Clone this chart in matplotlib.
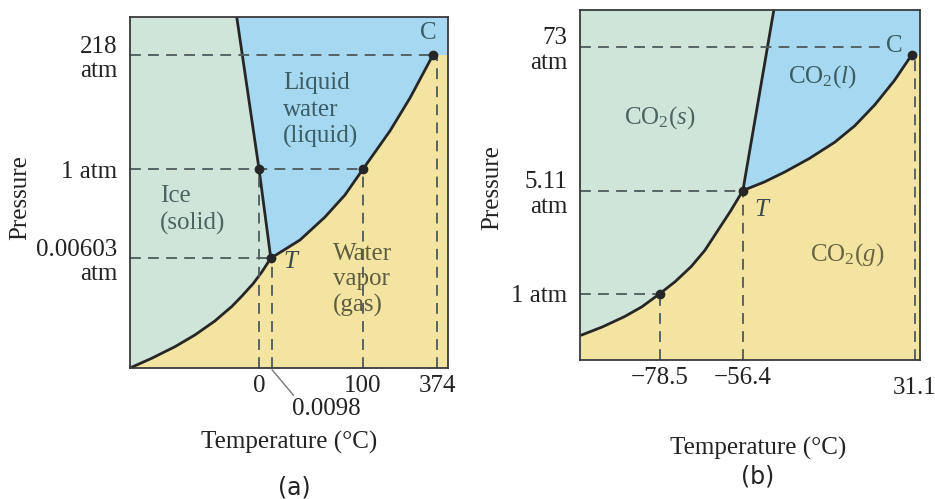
import matplotlib
matplotlib.use("Agg")
import matplotlib.pyplot as plt

plt.rcParams['font.family'] = ['Liberation Serif', 'DejaVu Serif']
plt.rcParams['mathtext.fontset'] = 'custom'
plt.rcParams['mathtext.rm'] = 'Liberation Serif'
plt.rcParams['mathtext.it'] = 'Liberation Serif:italic'

# ---- (a) water, schematic axes 0..100 ----
h2o_sub_T = [0, 6.9, 14.2, 20.4, 26.7, 32.1, 35.2, 38.7, 41.5, 44.3]
h2o_sub_P = [0, 2.8, 6.1, 9.4, 13.4, 17.6, 20.5, 24.0, 27.4, 31.3]
h2o_vap_T = [44.3, 53.5, 61.3, 67.6, 73.3, 81.8, 88.1, 95.3]
h2o_vap_P = [31.3, 36.5, 43.0, 49.3, 56.7, 67.6, 77.0, 89.2]
h2o_melt_T = [44.3, 40.6, 33.6]
h2o_melt_P = [31.3, 56.7, 100]
h2o_triple = (44.3, 31.3)
h2o_crit = (95.3, 89.2)
h2o_1atm_T = [40.6, 73.3]
h2o_1atm_P = 56.7
h2o_xticks = [40.6, 73.3, 96.6]
h2o_xlabels = ['0', '100', '374']
h2o_yticks = [89.2, 56.7, 31.3]
h2o_ylabels = ['218\natm', '1 atm', '0.00603\natm']

# ---- (b) carbon dioxide ----
co2_sub_T = [0.5, 6.8, 13.2, 18.3, 23.5, 28.1, 32.8, 36.8, 40.7, 44.4, 48.0]
co2_sub_P = [7.1, 9.5, 12.4, 15.2, 18.9, 22.4, 26.7, 31.3, 37.1, 42.6, 48.4]
co2_vap_T = [48.0, 54.4, 60.3, 67.6, 75.0, 80.9, 86.8, 92.6, 97.6]
co2_vap_P = [48.4, 50.9, 53.7, 57.6, 62.2, 66.9, 72.9, 79.9, 87.1]
co2_melt_T = [48.0, 57.1]
co2_melt_P = [48.4, 100]
co2_triple = (48.0, 48.4)
co2_crit = (97.6, 87.1)
co2_1atm = (23.5, 18.9)
co2_73_P = 89.5
co2_xticks = [23.5, 48.0, 98.5]
co2_xlabels = ['\u221278.5', '\u221256.4', '31.1']
co2_yticks = [89.5, 48.4, 18.9]
co2_ylabels = ['73\natm', '5.11\natm', '1 atm']

ICE = '#cfe5da'
LIQ = '#a6d8f1'
GAS = '#f4e4a2'
LINE = '#262626'
DASH = '#4c5a5c'
FS = 18

fig = plt.figure(figsize=(9.35, 4.99), dpi=100)
ax1 = fig.add_axes([0.139, 0.2625, 0.340, 0.703])
ax2 = fig.add_axes([0.620, 0.2786, 0.3636, 0.7014])


def draw_diagram(ax, sT, sP, vT, vP, mT, mP, crit):
    ax.set_xlim(0, 100)
    ax.set_ylim(0, 100)
    ax.set_facecolor(ICE)
    # vapor region
    gx = list(sT) + list(vT[1:]) + [100, 100, sT[0]]
    gy = list(sP) + list(vP[1:]) + [crit[1], 0, 0]
    ax.fill(gx, gy, color=GAS, lw=0)
    # liquid region
    lx = list(mT[::-1]) + list(vT[1:]) + [100, 100]
    ly = list(mP[::-1]) + list(vP[1:]) + [crit[1], 100]
    ax.fill(lx, ly, color=LIQ, lw=0)
    for xs, ys in ((sT, sP), (vT, vP), (mT, mP)):
        ax.plot(xs, ys, color=LINE, lw=2, solid_capstyle='round',
                solid_joinstyle='round')
    for s in ax.spines.values():
        s.set_color('#3a3a3a')
        s.set_linewidth(1.3)
    ax.tick_params(length=0, labelsize=FS, colors='#222222')


dash_kw = dict(color=DASH, lw=1.3, dashes=(6, 4))

# ---------- panel (a) ----------
ax = ax1
draw_diagram(ax, h2o_sub_T, h2o_sub_P, h2o_vap_T, h2o_vap_P,
             h2o_melt_T, h2o_melt_P, h2o_crit)
ax.plot([0, h2o_crit[0]], [h2o_crit[1]] * 2, **dash_kw)
ax.plot([0, h2o_1atm_T[1]], [h2o_1atm_P] * 2, **dash_kw)
ax.plot([0, h2o_triple[0]], [h2o_triple[1]] * 2, **dash_kw)
ax.plot([h2o_xticks[0]] * 2, [0, h2o_1atm_P], **dash_kw)
ax.plot([h2o_triple[0] + 0.4] * 2, [0, h2o_triple[1]], **dash_kw)
ax.plot([h2o_xticks[1]] * 2, [0, h2o_1atm_P], **dash_kw)
ax.plot([h2o_xticks[2]] * 2, [0, h2o_crit[1]], **dash_kw)
ax.plot(h2o_1atm_T, [h2o_1atm_P] * 2, 'o', color=LINE, ms=6)
ax.plot(*h2o_triple, 'o', color=LINE, ms=6)
ax.plot(*h2o_crit, 'o', color=LINE, ms=6)
ax.set_xticks(h2o_xticks)
ax.set_xticklabels(h2o_xlabels)
ax.set_yticks(h2o_yticks)
ax.set_yticklabels(h2o_ylabels, multialignment='right', linespacing=1.15)
ax.tick_params(axis='x', pad=5)
ax.tick_params(axis='y', pad=9)
ax.set_xlabel('Temperature (\u00b0C)', fontsize=FS, color='#222222')
ax.xaxis.set_label_coords(0.50, -0.18)
ax.set_ylabel('Pressure', fontsize=FS, color='#222222')
ax.yaxis.set_label_coords(-0.31, 0.487)
ax.text(0.516, -0.342, '(a)', transform=ax.transAxes, ha='center', va='center',
        fontsize=FS - 1, color='#222222', family=['DejaVu Sans'])
ax.annotate('0.0098', xy=(h2o_triple[0] + 0.4, -0.5), xytext=(61.9, -11.7),
            textcoords='data', ha='center', va='center', fontsize=FS,
            color='#222222', annotation_clip=False,
            arrowprops=dict(arrowstyle='-', color='#777777', lw=1,
                            relpos=(0.05, 1.0), shrinkA=0, shrinkB=0))
ax.text(48.1, 73.5, 'Liquid\nwater\n(liquid)', fontsize=FS, color='#3c5c64',
        ha='left', va='center', linespacing=1.25)
ax.text(9.4, 45.0, 'Ice\n(solid)', fontsize=FS, color='#4a6462',
        ha='left', va='center', linespacing=1.25)
ax.text(63.8, 25.1, 'Water\nvapor\n(gas)', fontsize=FS, color='#5f5d40',
        ha='left', va='center', linespacing=1.2)
ax.text(48.1, 30.2, 'T', fontsize=FS, style='italic', color='#3c4a4c',
        ha='left', va='center')
ax.text(93.7, 95.5, 'C', fontsize=FS, color='#3c5c64', ha='center', va='center')

# ---------- panel (b) ----------
ax = ax2
draw_diagram(ax, co2_sub_T, co2_sub_P, co2_vap_T, co2_vap_P,
             co2_melt_T, co2_melt_P, co2_crit)
ax.plot([0, co2_crit[0] - 9], [co2_73_P] * 2, **dash_kw)
ax.plot([0, co2_triple[0]], [co2_triple[1]] * 2, **dash_kw)
ax.plot([0, co2_1atm[0]], [co2_1atm[1]] * 2, **dash_kw)
ax.plot([co2_1atm[0]] * 2, [0, co2_1atm[1]], **dash_kw)
ax.plot([co2_triple[0]] * 2, [0, co2_triple[1]], **dash_kw)
ax.plot([co2_xticks[2]] * 2, [0, co2_crit[1]], **dash_kw)
ax.plot(*co2_1atm, 'o', color=LINE, ms=6)
ax.plot(*co2_triple, 'o', color=LINE, ms=6)
ax.plot(*co2_crit, 'o', color=LINE, ms=6)
ax.set_xticks(co2_xticks)
ax.set_xticklabels(co2_xlabels)
ax.set_yticks(co2_yticks)
ax.set_yticklabels(co2_ylabels, multialignment='right', linespacing=1.15)
ax.tick_params(axis='x', pad=5)
ax.tick_params(axis='y', pad=9)
ax.xaxis.get_major_ticks()[2].set_pad(12)
ax.set_xlabel('Temperature (\u00b0C)', fontsize=FS, color='#222222')
ax.xaxis.set_label_coords(0.524, -0.22)
ax.set_ylabel('Pressure', fontsize=FS, color='#222222')
ax.yaxis.set_label_coords(-0.225, 0.494)
ax.text(0.524, -0.334, '(b)', transform=ax.transAxes, ha='center', va='center',
        fontsize=FS - 1, color='#222222', family=['DejaVu Sans'])
ax.text(23.5, 69.4, r'CO$_2$($s$)', fontsize=FS, color='#4a6462',
        ha='center', va='center')
ax.text(71.5, 80.9, r'CO$_2$($l$)', fontsize=FS, color='#3c5c64',
        ha='center', va='center')
ax.text(78.8, 30.0, r'CO$_2$($g$)', fontsize=FS, color='#6a6440',
        ha='center', va='center')
ax.text(53.5, 42.9, 'T', fontsize=FS, style='italic', color='#3c4a4c',
        ha='center', va='center')
ax.text(92.6, 89.8, 'C', fontsize=FS, color='#3c5c64', ha='center', va='center')

fig.savefig('out.png', dpi=100, facecolor='white')
